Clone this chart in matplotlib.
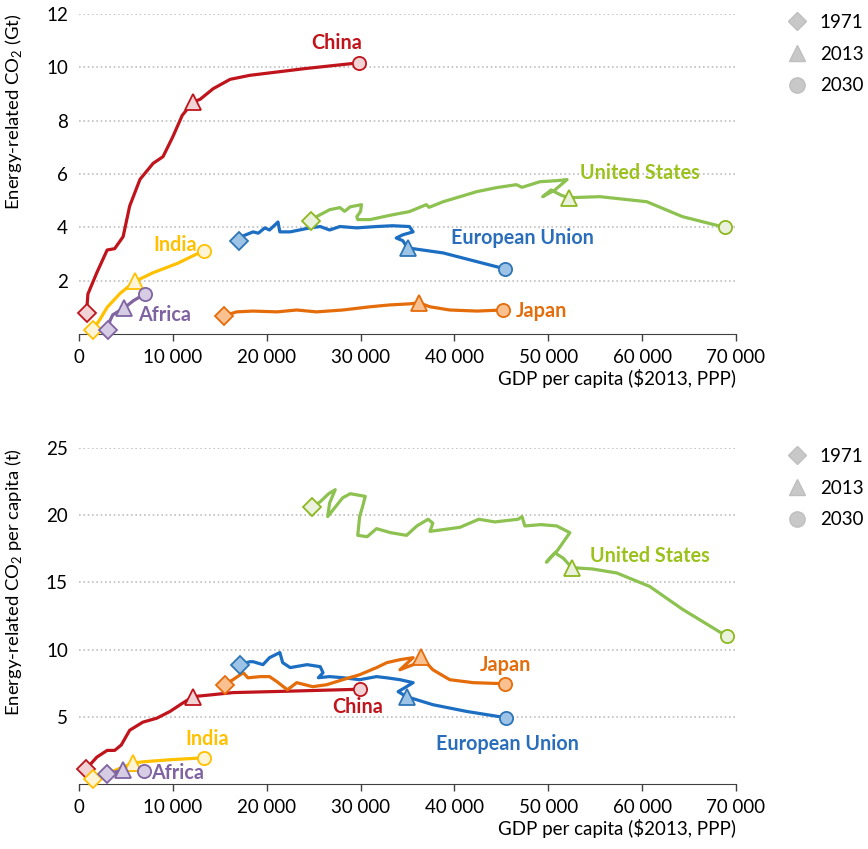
import numpy as np
import matplotlib.pyplot as plt
from matplotlib.lines import Line2D
from matplotlib.ticker import FuncFormatter

plt.rcParams['font.family'] = ['Lato', 'DejaVu Sans']
plt.rcParams['mathtext.fontset'] = 'custom'
plt.rcParams['mathtext.rm'] = 'Lato'

# ---- top panel: energy-related CO2 (Gt) vs GDP per capita ----
china_gdp_a = [800, 950, 1900, 3000, 3800, 4700, 5400, 6500, 7900, 8950, 10000, 11000, 12150,
               12900, 14300, 16100, 18200, 24000, 29850]
china_co2 = [0.79, 1.5, 2.3, 3.15, 3.2, 3.65, 4.8, 5.8, 6.4, 6.65, 7.4, 8.2, 8.7,
             8.8, 9.2, 9.55, 9.7, 9.95, 10.17]
india_gdp_a = [1500, 2200, 3000, 4400, 5950, 7900, 10500, 13300]
india_co2 = [0.15, 0.53, 1.0, 1.53, 1.97, 2.3, 2.65, 3.13]
africa_gdp_a = [3100, 3300, 3600, 4200, 4800, 5800, 7000]
africa_co2 = [0.15, 0.5, 0.72, 0.85, 0.97, 1.25, 1.5]
eu_gdp_a = [17070, 17500, 18550, 19100, 19800, 20300, 21200, 21400, 22500, 24600, 25700, 26700,
            27800, 29600, 31700, 33400, 35200, 35600, 34500, 33800, 34500, 35000, 38800, 45400]
eu_co2 = [3.50, 3.68, 3.83, 3.78, 3.98, 3.9, 4.2, 3.83, 3.83, 3.98, 4.03, 3.9,
          4.03, 3.98, 4.03, 4.06, 4.03, 3.83, 3.72, 3.6, 3.5, 3.23, 3.04, 2.44]
us_gdp_a = [24700, 25300, 26700, 27800, 28300, 28900, 30100, 30000, 29600, 29700, 31000, 33400,
            35200, 37000, 37300, 38800, 40600, 42400, 44500, 46600, 47200, 49100, 50900, 52000,
            50700, 49400, 50300, 51400, 52200, 55500, 60500, 64300, 68800]
us_co2 = [4.25, 4.4, 4.66, 4.74, 4.6, 4.77, 4.85, 4.6, 4.4, 4.29, 4.29, 4.47,
          4.59, 4.85, 4.75, 4.96, 5.15, 5.34, 5.49, 5.6, 5.5, 5.71, 5.75, 5.79,
          5.4, 5.15, 5.4, 5.2, 5.11, 5.15, 4.96, 4.4, 4.0]
japan_gdp_a = [15400, 16800, 18500, 21100, 23200, 25300, 28100, 31000, 33100, 35200, 36200,
               37400, 39500, 42400, 45200]
japan_co2 = [0.68, 0.83, 0.86, 0.83, 0.9, 0.83, 0.9, 1.02, 1.09, 1.13, 1.17,
             1.02, 0.9, 0.86, 0.9]

# ---- bottom panel: energy-related CO2 per capita (t) ----
china_gdp_b = [750, 1900, 3000, 3800, 4500, 5400, 6800, 8300, 9700, 11000, 12150, 13600, 16400,
               22000, 29900]
china_pc = [1.1, 2.0, 2.5, 2.5, 2.9, 4.0, 4.6, 4.9, 5.4, 6.0, 6.5, 6.6, 6.8, 6.9, 7.05]
india_gdp_b = [1500, 2500, 3800, 4800, 5750, 6800, 9600, 13300]
india_pc = [0.4, 0.7, 1.0, 1.3, 1.55, 1.65, 1.8, 1.95]
africa_gdp_b = [3000, 3600, 4200, 4700, 5600, 6900]
africa_pc = [0.75, 0.85, 0.95, 1.05, 1.02, 1.0]
eu_gdp_b = [17150, 18200, 18550, 19600, 20300, 21400, 21700, 22500, 24300, 25700, 26000, 25500,
            26700, 28100, 29900, 31700, 32800, 34200, 35600, 34800, 34000, 34900, 37700, 41300,
            45500]
eu_pc = [8.88, 9.1, 9.1, 8.88, 9.4, 9.78, 9.03, 8.66, 8.88, 8.73, 8.28, 7.91,
         7.99, 7.91, 7.76, 7.99, 7.9, 7.76, 7.54, 7.2, 6.87, 6.5, 5.9, 5.4, 4.93]
us_gdp_b = [24800, 25700, 26600, 27300, 26700, 26500, 27300, 28100, 28900, 30500, 30200, 29900,
            29700, 30700, 31700, 33200, 34900, 36000, 37200, 37700, 37400, 38500, 40600, 42600,
            44300, 46800, 47200, 47500, 49200, 50900, 52300, 51000, 49800, 50700, 51600, 52500,
            54700, 57300, 60800, 64300, 69000]
us_pc = [20.6, 21.0, 21.6, 21.9, 20.9, 19.9, 20.6, 21.3, 21.6, 21.4, 20.6, 19.9,
         18.5, 18.4, 19.0, 18.7, 18.5, 19.2, 19.7, 19.4, 18.8, 18.9, 19.1, 19.7,
         19.5, 19.7, 19.9, 19.2, 19.3, 19.2, 18.7, 17.4, 16.5, 17.2, 16.8, 16.1,
         16.0, 15.7, 14.7, 13.0, 11.0]
japan_gdp_b = [15550, 16400, 17500, 18000, 19300, 20300, 21100, 22200, 23200, 24900, 26400,
               28100, 29900, 31700, 32800, 34200, 35600, 34200, 35600, 36400, 37700, 39500,
               42000, 45400]
japan_pc = [7.39, 7.76, 8.28, 7.9, 7.99, 7.99, 7.61, 7.01, 7.54, 7.24, 7.39,
            7.76, 8.13, 8.66, 9.03, 9.25, 9.4, 8.5, 8.88, 9.48, 8.5, 7.76, 7.54, 7.46]

years = ['1971', '2013', '2030']

# colours: line, marker fill, label
styles = {
    'China': ('#C0141C', '#F2D3D5', '#C0141C'),
    'India': ('#FFC000', '#FFF5D6', '#FFC000'),
    'Africa': ('#8064A2', '#D6CCE4', '#8064A2'),
    'European Union': ('#1B6EC2', '#9DC3E6', '#2A6EBB'),
    'United States': ('#8DC150', '#EAF1DD', '#9BC21C'),
    'Japan': ('#E46C0A', '#FAC090', '#E46C0A'),
}
edge_col = {'United States': '#8DB81E', 'European Union': '#2E75B6'}

top_series = [
    ('China', china_gdp_a, china_co2, 12),
    ('India', india_gdp_a, india_co2, 4),
    ('Africa', africa_gdp_a, africa_co2, 4),
    ('European Union', eu_gdp_a, eu_co2, 21),
    ('United States', us_gdp_a, us_co2, 28),
    ('Japan', japan_gdp_a, japan_co2, 10),
]
bot_series = [
    ('China', china_gdp_b, china_pc, 10),
    ('India', india_gdp_b, india_pc, 4),
    ('Africa', africa_gdp_b, africa_pc, 3),
    ('European Union', eu_gdp_b, eu_pc, 21),
    ('United States', us_gdp_b, us_pc, 35),
    ('Japan', japan_gdp_b, japan_pc, 19),
]

top_labels = [('China', 27500, 10.9), ('India', 10200, 3.35), ('Africa', 9150, 0.72),
              ('European Union', 47200, 3.6), ('United States', 59750, 6.05),
              ('Japan', 49300, 0.88)]
bot_labels = [('United States', 60800, 17.0), ('Japan', 45400, 8.84), ('China', 29700, 5.72),
              ('European Union', 45600, 2.97), ('India', 13700, 3.34), ('Africa', 10500, 0.82)]

fig = plt.figure(figsize=(8.68, 8.49), dpi=100)
W, H = 868, 849
ax1 = fig.add_axes([79 / W, (H - 334) / H, 657 / W, 320 / H])
ax2 = fig.add_axes([79 / W, (H - 784) / H, 657 / W, 336 / H])

FS = 13.5


def draw(ax, series, labels, ymax, yticks, ylabel, leg_y):
    for name, xs, ys, i13 in series:
        line, fill, _ = styles[name]
        edge = edge_col.get(name, line)
        ax.plot(xs, ys, color=line, lw=2.3, solid_capstyle='round', zorder=3, clip_on=False)
        ax.plot(xs[0], ys[0], marker='D', ms=9.5, mfc=fill, mec=edge, mew=1.3, zorder=4, clip_on=False)
        ax.plot(xs[i13], ys[i13], marker='^', ms=11, mfc=fill, mec=edge, mew=1.3, zorder=4, clip_on=False)
        ax.plot(xs[-1], ys[-1], marker='o', ms=9.5, mfc=fill, mec=edge, mew=1.3, zorder=4, clip_on=False)
    for name, x, y in labels:
        ax.text(x, y, name, color=styles[name][2], fontsize=14.2, fontweight='bold',
                ha='center', va='center', zorder=5)
    ax.set_xlim(0, 70000)
    ax.set_ylim(0, ymax)
    ax.set_xticks(np.arange(0, 70001, 10000))
    ax.xaxis.set_major_formatter(FuncFormatter(lambda v, p: f'{int(v):,}'.replace(',', ' ')))
    ax.set_yticks(yticks)
    ax.tick_params(axis='y', length=0, pad=8, labelsize=FS)
    ax.tick_params(axis='x', direction='out', length=5, width=1, color='#404040',
                   labelsize=FS, pad=6)
    for s in ['top', 'right', 'left']:
        ax.spines[s].set_visible(False)
    ax.spines['bottom'].set_color('#404040')
    ax.grid(axis='y', color='#BFBFBF', lw=1.2, ls=(0, (1, 1.6)))
    ax.set_axisbelow(True)
    ax.set_xlabel(r'GDP per capita (\$2013, PPP)', fontsize=FS, loc='right', labelpad=2)
    ax.set_ylabel(ylabel, fontsize=13.3, loc='top')
    ax.yaxis.set_label_coords(-0.084, 1.0)
    handles = [
        Line2D([], [], ls='none', marker='D', ms=9.5, mfc='#C8C8C8', mec='#BFBFBF'),
        Line2D([], [], ls='none', marker='^', ms=11, mfc='#C8C8C8', mec='#BFBFBF'),
        Line2D([], [], ls='none', marker='o', ms=11, mfc='#C8C8C8', mec='#BFBFBF'),
    ]
    ax.legend(handles, years, loc='upper left', bbox_to_anchor=(1.079, leg_y), frameon=False,
              fontsize=FS, handlelength=1.0, handletextpad=0.7, labelspacing=0.78,
              borderpad=0, borderaxespad=0)


draw(ax1, top_series, top_labels, 12, [2, 4, 6, 8, 10, 12], r'Energy-related CO$_2$ (Gt)', 1.0)
draw(ax2, bot_series, bot_labels, 25, [5, 10, 15, 20, 25], r'Energy-related CO$_2$ per capita (t)', 1.0)

fig.savefig('out.png', dpi=100)
